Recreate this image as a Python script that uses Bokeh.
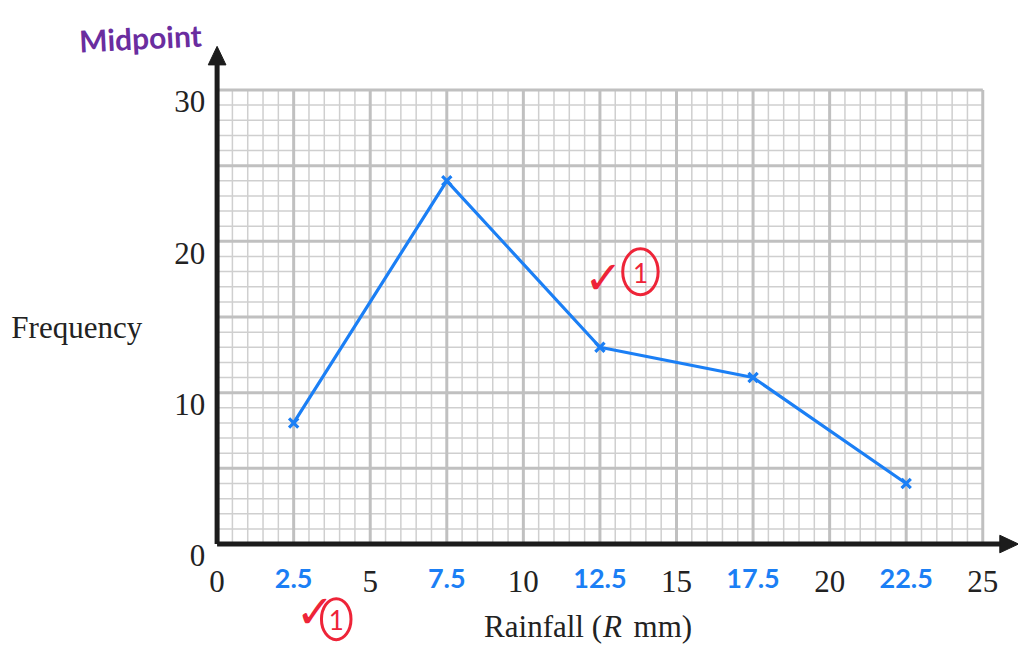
import numpy as np
from bokeh.plotting import figure
from bokeh.models import Range1d
from bokeh.core.properties import value
from bokeh.embed import file_html
from bokeh.resources import INLINE

# ---- data ----
midpoints = [2.5, 7.5, 12.5, 17.5, 22.5]
frequency = [8, 24, 13, 11, 4]
x_ticks = [0, 5, 10, 15, 20, 25]
x_tick_labels = ["0", "5", "10", "15", "20", "25"]
y_ticks = [0, 10, 20, 30]
y_tick_labels = ["0", "10", "20", "30"]
mid_labels = ["2.5", "7.5", "12.5", "17.5", "22.5"]
x_title = ["Rainfall (", "R", "mm)"]
y_title = "Frequency"
note = "Midpoint"

# ---- layout: reference picture geometry scaled onto the canvas ----
W, H = 1018, 646
RW, RH = 1034.0, 662.0
sx, sy = W / RW, H / RH
X0R, X25R = 220.0, 997.7
Y0R, Y30R = 557.0, 91.7
ux = (X25R - X0R) * sx / 25.0
uy = (Y0R - Y30R) * sy / 30.0

def dx(px):
    return (px - X0R) * sx / ux

def dy(py):
    return (Y0R - py) * sy / uy

p = figure(width=W, height=H, x_range=Range1d(dx(0), dx(RW)),
           y_range=Range1d(dy(RH), dy(0)), min_border=0,
           x_axis_type=None, y_axis_type=None,
           toolbar_location=None, output_backend="svg")
p.grid.visible = False
p.outline_line_color = None
p.background_fill_color = "white"

# ---- graph paper ----
xmin, xmax, ymin, ymax = 0, 25, 0, 30
minor_x = np.arange(0, 25.01, 0.5)
minor_y = np.arange(0, 30.01, 1.0)
major_x = np.arange(0, 25.01, 2.5)
major_y = np.arange(0, 30.01, 5.0)
mc, ml = "#cfcfcf", 1.5
Mc, Ml = "#c0c0c0", 3.0
p.segment(x0=minor_x, y0=ymin, x1=minor_x, y1=ymax, line_color=mc, line_width=ml)
p.segment(x0=xmin, y0=minor_y, x1=xmax, y1=minor_y, line_color=mc, line_width=ml)
p.segment(x0=major_x, y0=ymin, x1=major_x, y1=ymax, line_color=Mc, line_width=Ml)
p.segment(x0=xmin, y0=major_y, x1=xmax, y1=major_y, line_color=Mc, line_width=Ml)

# ---- axes with arrowheads ----
ax_col = "#1c1c1c"
p.segment(x0=[0], y0=[0], x1=[0], y1=[dy(62)], line_color=ax_col, line_width=5)
p.segment(x0=[0], y0=[0], x1=[dx(1024)], y1=[0], line_color=ax_col, line_width=5)
p.patch(x=[dx(211), dx(229), dx(220)], y=[dy(66), dy(66), dy(47)], color=ax_col)
p.patch(x=[dx(1015), dx(1015), dx(1034)], y=[dy(548), dy(566), dy(557)], color=ax_col)

# ---- polygon ----
blue = "#1b7ff5"
p.line(midpoints, frequency, line_color=blue, line_width=3.2)
p.scatter(midpoints, frequency, marker="x", size=13, line_color=blue, line_width=3.2)

serif = value("Liberation Serif")
fs = "31px"
ink = "#222222"
# tick labels
p.text(x=x_ticks, y=[0] * len(x_ticks), text=x_tick_labels, text_font=serif,
       text_font_size=fs, text_color=ink, text_align="center",
       text_baseline="alphabetic", y_offset=38 * sy)
p.text(x=[0] * len(y_ticks), y=y_ticks, text=y_tick_labels, text_font=serif,
       text_font_size=fs, text_color=ink, text_align="right",
       text_baseline="alphabetic", x_offset=-12 * sx, y_offset=12 * sy)
# handwritten midpoint labels
p.text(x=midpoints, y=[0] * len(midpoints), text=mid_labels, text_font=value("Lato"),
       text_font_style="bold", text_font_size="27px", text_color=blue,
       text_align="center", text_baseline="alphabetic", y_offset=35 * sy)

# axis titles
p.text(x=[dx(11)], y=[dy(335)], text=[y_title], text_font=serif, text_font_size=fs,
       text_color=ink, text_align="left", text_baseline="alphabetic")
ty = dy(642)
p.text(x=[dx(611)], y=[ty], text=[x_title[0]], text_font=serif, text_font_size=fs,
       text_color=ink, text_align="right", text_baseline="alphabetic")
p.text(x=[dx(612)], y=[ty], text=[x_title[1]], text_font=serif, text_font_size=fs,
       text_font_style="italic", text_color=ink, text_align="left",
       text_baseline="alphabetic")
p.text(x=[dx(643)], y=[ty], text=[x_title[2]], text_font=serif, text_font_size=fs,
       text_color=ink, text_align="left", text_baseline="alphabetic")

# purple note
p.text(x=[dx(80)], y=[dy(41)], text=[note], text_font=value("Lato"), text_font_style="bold",
       text_font_size="30px", text_color="#6a2d9f", text_align="left",
       text_baseline="alphabetic", angle=0.05)

# red marks
red = "#ee2438"
p.text(x=[dx(593), dx(300)], y=[dy(284), dy(627)], text=["\u2713", "\u2713"],
       text_font=value("DejaVu Sans"), text_font_size="46px", text_color=red,
       text_align="left", text_baseline="alphabetic")
p.ellipse(x=[dx(650), dx(341)], y=[dy(278), dy(634)], width=[36 * sx / ux, 30 * sx / ux],
          height=[47 * sy / uy, 42 * sy / uy], fill_color=None, line_color=red, line_width=3)
p.text(x=[dx(650), dx(341)], y=[dy(279), dy(635)], text=["1", "1"],
       text_font=value("Lato"), text_font_size="26px", text_color=red,
       text_align="center", text_baseline="middle")

open("out.html", "w").write(file_html(p, INLINE))
